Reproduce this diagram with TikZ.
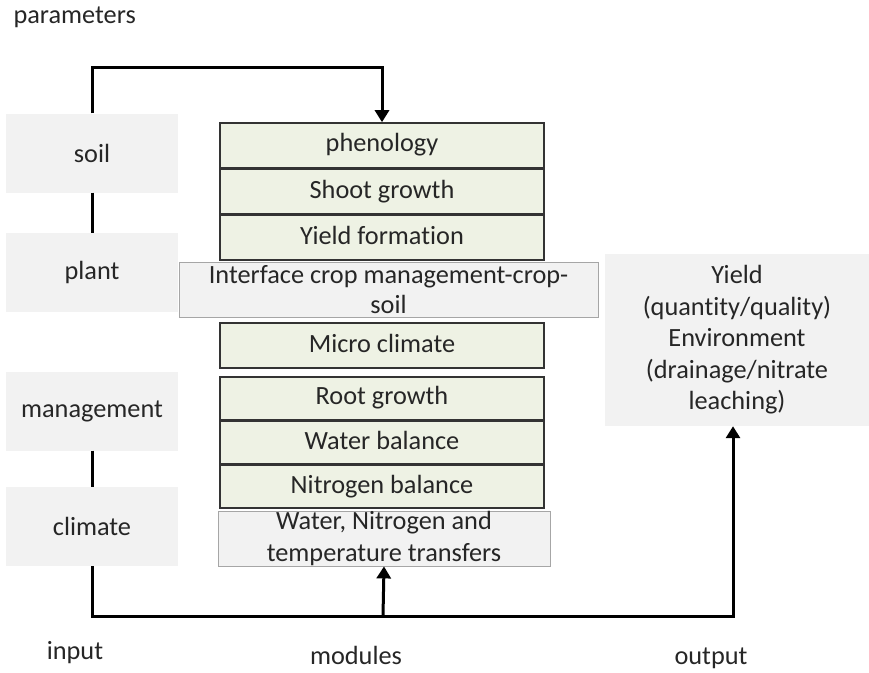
\documentclass[tikz,border=0pt]{standalone}
\usepackage{fontspec}
\setmainfont{Carlito}[Ligatures=NoCommon]
\usetikzlibrary{positioning,arrows.meta}

\definecolor{boxgray}{HTML}{F2F2F2}
\definecolor{modgreen}{HTML}{EEF2E4}
\definecolor{txtgray}{HTML}{262626}

\tikzset{
  inbox/.style={fill=boxgray, minimum width=172pt, minimum height=79pt, inner sep=0pt},
  module/.style={draw=black!80, line width=1.5pt, fill=modgreen, minimum width=324pt, inner sep=0pt,
    text height=18pt, text depth=5pt},
  transfer/.style={draw=black!35, line width=0.6pt, fill=boxgray, align=center, inner sep=0pt},
  flow/.style={line width=3pt, -{Triangle[length=12pt,width=14pt]}},
  link/.style={line width=3pt}
}

\begin{document}
\begin{tikzpicture}[x=1pt, y=-1pt,
  every node/.style={font=\fontsize{26.3}{31.5}\selectfont, text=txtgray}]
  \useasboundingbox (0,0) rectangle (869,672);

  % Input parameters
  \node[anchor=west] (params) at (10,17) {parameters};
  \node[inbox] (soil) at (92,153) {soil};
  \node[inbox] (plant) at (92,272.5) {plant};
  \node[inbox] (mgmt) at (92,411) {management};
  \node[inbox] (climate) at (92,526.5) {climate};
  \draw[link] (soil.south) -- (plant.north);
  \draw[link] (mgmt.south) -- (climate.north);

  % Module stack
  \node[module, minimum height=44.7pt] (phenology) at (382,145.3) {phenology};
  \node[module, minimum height=44.7pt, below=0pt of phenology] (shoot) {Shoot growth};
  \node[module, minimum height=44.7pt, below=0pt of shoot] (yieldform) {Yield formation};
  \node[transfer, minimum width=419pt, minimum height=55pt, below=1pt of yieldform, xshift=6.5pt] (interface)
    {Interface crop management-crop-\\[-1pt]soil};
  \node[module, minimum height=45pt] (micro) at (382,345.5) {Micro climate};
  \node[module, minimum height=42.7pt] (root) at (382,398.3) {Root growth};
  \node[module, minimum height=42.7pt, below=0pt of root] (water) {Water balance};
  \node[module, minimum height=42.7pt, below=0pt of water] (nitrogen) {Nitrogen balance};
  \node[transfer, minimum width=332pt, minimum height=55pt, below=2pt of nitrogen, xshift=2pt] (transfers)
    {Water, Nitrogen and\\temperature transfers};

  % Output
  \node[fill=boxgray, minimum width=264pt, minimum height=172pt, align=center, inner sep=0pt] (out) at (737,340)
    {Yield\\(quantity/quality)\\Environment\\(drainage/nitrate\\leaching)};

  % Flows
  \coordinate (ptop) at (92,67);
  \coordinate (bus) at (383,616);
  \coordinate (outfoot) at (733,616);
  \draw[flow] (soil.north) -- (ptop) -| (phenology.north);
  \draw[flow] (climate.south) |- (outfoot) -- (outfoot |- out.south);
  \draw[flow] (bus) -- (transfers.south);

  % Column labels
  \node (lblinput) at (75,653) {input};
  \node (lblmodules) at (356,655) {modules};
  \node (lbloutput) at (711,658) {output};
\end{tikzpicture}
\end{document}
